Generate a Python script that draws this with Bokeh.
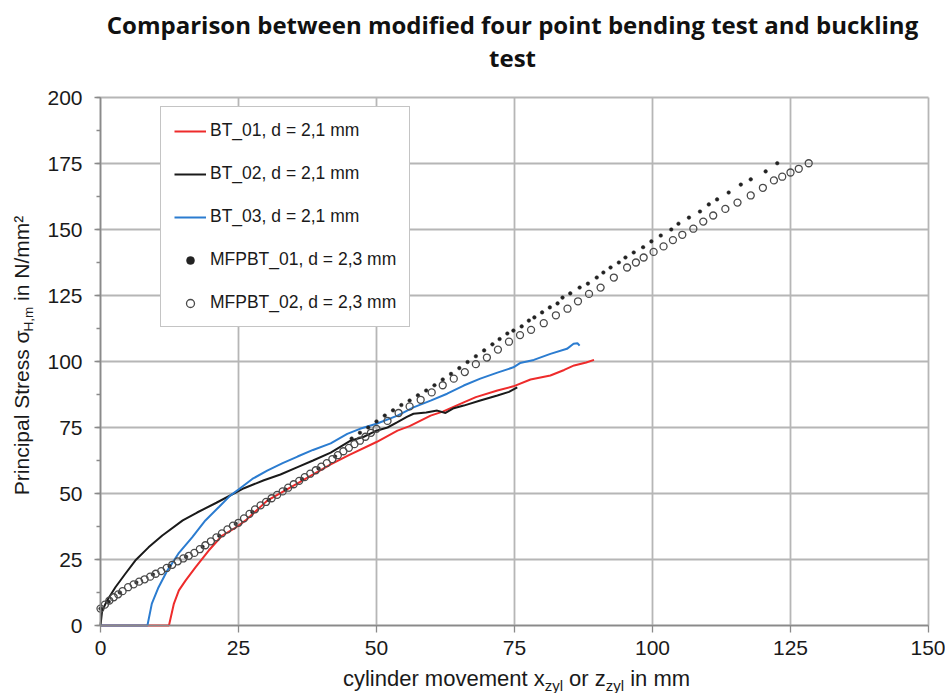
import math
from bokeh.plotting import figure
from bokeh.models import (Range1d, SingleIntervalTicker, Label, Legend, LegendItem,
                          LinearAxis, Grid)
from bokeh.embed import file_html
from bokeh.resources import INLINE

# ---------------- data ----------------
bt01_x = [0, 12.4, 13.3, 14.2, 15.4, 17.2, 19.6, 22, 24.5, 26.3, 30.2, 35.7, 41.7, 45, 50,
          53.8, 56, 59.8, 62, 65.8, 68, 71.9, 74.8, 77.9, 81.5, 84, 85.8, 88, 89.4]
bt01_y = [0, 0, 8.3, 13.3, 17, 22, 28.4, 34, 37.1, 39.8, 47.3, 53.8, 61, 64.5, 69.5,
          73.8, 75.5, 79.5, 81, 84.5, 86.5, 89, 90.6, 93.2, 94.7, 96.8, 98.5, 99.6, 100.6]

bt02_x = [0, 0.3, 1.2, 2.7, 4.5, 6.3, 8.7, 11.2, 14.9, 17.5, 21, 26, 29.6, 32.6, 35.7, 38.5,
          41.7, 45.3, 47.7, 50, 52, 53.8, 55.5, 56.7, 59, 61, 62.5, 64, 65.8, 68.8, 71.9, 74, 75.5]
bt02_y = [0, 5.6, 9.5, 14.5, 19.6, 24.6, 29.6, 34.1, 39.8, 42.8, 46.5, 52, 55, 57.2, 60, 62.5,
          65.5, 70, 71.5, 73.8, 75, 77, 79, 80.2, 80.7, 81.4, 80.5, 82.3, 83.3, 85.2, 87.1, 88.5, 90.2]

bt03_x = [0, 8.5, 9.3, 10.5, 12.1, 14.1, 16.6, 19, 21.5, 23.5, 25, 27.5, 30.2, 33, 35.7, 38.5,
          41.7, 44.7, 47, 50, 53.8, 56.7, 59.8, 62.8, 65.8, 68.8, 71.9, 74.8, 76, 78.5, 81.5,
          84.5, 85.7, 86.4, 86.8]
bt03_y = [0, 0, 8.3, 14.4, 20.8, 27.2, 33.4, 39.8, 45, 49.2, 51.5, 55.5, 58.7, 61.5, 64, 66.5,
          69, 72.6, 74.5, 76.4, 79.5, 82.6, 85.2, 87.8, 90.9, 93.5, 95.8, 97.8, 99.4, 100.6, 102.9,
          104.8, 106.7, 106.9, 106]

mf01_x = [0, 1.5, 3.5, 6.5, 9.5, 12.5, 15.5, 18.5, 21.5, 24.5, 27.5, 30.5, 33.5, 36.5, 39.5,
          42.5, 45.5, 47, 48.5, 50, 51.5, 53, 54.5, 56, 57.5, 59, 60.5, 62, 63.5, 65, 66.5, 68,
          69.5, 71, 72.3, 73.7, 74.8, 76.3, 77.6, 78.6, 80.0, 81.4, 82.8, 83.7, 85.1, 86.8, 88.3,
          89.9, 91.1, 92.4, 93.9, 95.1, 96.6, 98.3, 99.8, 101.5, 103.4, 104.7, 106.6, 108.6,
          110.2, 111.7, 113.8, 116.0, 117.8, 120.5, 122.6]
mf01_y = [6.4, 9, 12.5, 16.3, 19.3, 22.5, 26, 29.8, 34, 38.5, 43, 47.5, 51.5, 55.5, 59.5,
          64, 70.8, 73, 75, 77.3, 79.5, 81.5, 83.5, 85.2, 87.2, 89, 91, 93.2, 95.3, 97.5, 99.8, 102,
          104.2, 106.5, 108.5, 110.6, 111.7, 113.3, 115.5, 116.7, 118.6, 120.5, 122.0, 124.2, 125.8,
          128.0, 129.5, 131.8, 133.7, 135.6, 137.5, 139.4, 141.3, 143.3, 145.5, 147.7, 150.0, 152.2,
          154.5, 156.8, 159.5, 161.4, 164.0, 167.0, 169.0, 172.0, 175.1]

mf02_x = [0, 0.8, 1.6, 2.4, 3.2, 4, 5, 6, 7, 8, 9, 10, 11, 12, 13, 14, 15, 16, 17, 18, 19, 20,
          21, 22, 23, 24, 25, 26, 27, 28, 29, 30, 31, 32, 33, 34, 35, 36, 37, 38, 39, 40, 41, 42,
          43, 44, 45, 46, 47, 48, 49,
          50, 52, 54, 56, 58, 60, 62, 64, 66, 68, 70, 72, 74, 76, 78, 80.3, 82.5, 84.6, 86.5,
          88.5, 90.6, 93, 95.4, 97, 98.4, 100.2, 102, 103.7, 105.4, 107.4, 109.2, 111, 113.2,
          115.4, 117.8, 120, 122, 123.5, 125, 126.5, 128.3]
mf02_y = [6.4, 7.9, 9.4, 10.7, 11.8, 13.0, 14.5, 15.6, 16.6, 17.5, 18.5, 19.6, 20.6, 21.8, 23.0,
          24.3, 25.4, 26.4, 27.5, 28.9, 30.4, 31.9, 33.4, 34.9, 36.4, 37.8, 38.9, 40.6, 42.3, 44.0,
          45.5, 46.8, 48.2, 49.5, 50.8, 52.2, 53.5, 54.8, 56.2, 57.5, 58.8, 60.2, 61.5, 63, 64.5,
          66, 67.3, 68.7, 70, 71.5, 73,
          74.5, 77.5, 80.5, 83, 85.5, 88.3, 91, 93.5, 96, 99, 101.5, 104.5, 107.5, 110,
          112, 114.5, 117.5, 120, 122.8, 125.6, 128, 131.8, 135.6, 137.5, 139.4, 141.5, 143.6, 146,
          148, 150.3, 153, 155.3, 157.8, 160.2, 162.9, 165.8, 168.6, 170, 171.6, 173, 175.1]

legend_labels = ["BT_01, d = 2,1 mm", "BT_02, d = 2,1 mm", "BT_03, d = 2,1 mm",
                 "MFPBT_01, d = 2,3 mm", "MFPBT_02, d = 2,3 mm"]
title_lines = ["Comparison between modified four point bending test and buckling", "test"]
x_bounds = (0, 150)
y_bounds = (0, 200)
tick_step = 25

# ---------------- layout ----------------
W, H = 945, 693
FL, FR, FT, FB = 100, 928, 97, 625   # pixel box of the data area

def dx(px):
    return (px - FL) * (x_bounds[1] - x_bounds[0]) / (FR - FL) + x_bounds[0]

def dy(py):
    return (FB - py) * (y_bounds[1] - y_bounds[0]) / (FB - FT) + y_bounds[0]

# the frame covers the whole canvas; axes are pinned at 0 with fixed_location
p = figure(width=W, height=H, x_range=Range1d(dx(0), dx(W)), y_range=Range1d(dy(H), dy(0)),
           output_backend="svg", toolbar_location=None,
           x_axis_type=None, y_axis_type=None,
           min_border=0, min_border_left=0, min_border_right=0,
           min_border_top=0, min_border_bottom=0)
p.outline_line_color = None
p.background_fill_color = "white"
p.border_fill_color = "white"

xt = SingleIntervalTicker(interval=tick_step, num_minor_ticks=0)
yt = SingleIntervalTicker(interval=tick_step, num_minor_ticks=2)

xg = Grid(dimension=0, ticker=xt, bounds=x_bounds)
yg = Grid(dimension=1, ticker=yt, bounds=y_bounds)
have_cross = "cross_bounds" in Grid.properties()
for g, cb in ((xg, y_bounds), (yg, x_bounds)):
    g.grid_line_color = "#b6b6b6"
    g.grid_line_width = 1.8
    if have_cross:
        g.cross_bounds = cb
if have_cross:
    p.add_layout(xg)
    p.add_layout(yg)
else:
    gx = list(range(x_bounds[0], x_bounds[1] + 1, tick_step))
    gy = list(range(y_bounds[0], y_bounds[1] + 1, tick_step))
    p.segment(x0=gx, y0=[y_bounds[0]] * len(gx), x1=gx, y1=[y_bounds[1]] * len(gx),
              line_color="#b6b6b6", line_width=1.8)
    p.segment(x0=[x_bounds[0]] * len(gy), y0=gy, x1=[x_bounds[1]] * len(gy), y1=gy,
              line_color="#b6b6b6", line_width=1.8)

xa = LinearAxis(ticker=xt, fixed_location=0, bounds=x_bounds)
ya = LinearAxis(ticker=yt, fixed_location=0, bounds=y_bounds)
for ax in (xa, ya):
    ax.axis_line_color = "#8a8a8a"
    ax.axis_line_width = 1.6
    ax.major_tick_line_color = "#8a8a8a"
    ax.minor_tick_line_color = "#8a8a8a"
    ax.major_tick_line_width = 1.3
    ax.minor_tick_line_width = 1.3
    ax.major_tick_in = 0
    ax.minor_tick_in = 0
    ax.major_label_text_font = "Liberation Sans"
    ax.major_label_text_font_size = "21px"
    ax.major_label_text_color = "#1a1a1a"
xa.major_tick_out = 7
ya.major_tick_out = 6
ya.minor_tick_out = 4
xa.major_label_standoff = 8
ya.major_label_standoff = 12
p.add_layout(xa, "below")
p.add_layout(ya, "left")

# ---------------- data marks ----------------
r1 = p.line(bt01_x, bt01_y, line_color="#ee2b2b", line_width=2)
r2 = p.line(bt02_x, bt02_y, line_color="#1a1a1a", line_width=2)
r3 = p.line(bt03_x, bt03_y, line_color="#2b7cd0", line_width=2)
r4 = p.scatter(mf01_x, mf01_y, marker="circle", size=3.6, fill_color="#222222",
               line_color="#222222", line_width=0.5)
r5 = p.scatter(mf02_x, mf02_y, marker="circle", size=7, fill_color=None,
               line_color="#4a4a4a", line_width=1.3)

legend = Legend(items=[LegendItem(label=l, renderers=[r]) for l, r in
                       zip(legend_labels, [r1, r2, r3, r4, r5])])
legend.location = (160, H - 327)
legend.padding = 13
legend.margin = 0
legend.spacing = 22
legend.glyph_width = 32
legend.glyph_height = 20
legend.label_height = 20
legend.label_standoff = 4
legend.label_text_font = "Liberation Sans"
legend.label_text_font_size = "17.5px"
legend.label_text_color = "#1a1a1a"
legend.border_line_color = "#8a8a8a"
legend.border_line_width = 1.5
legend.background_fill_color = "white"
legend.background_fill_alpha = 1.0
p.add_layout(legend)

# ---------------- title ----------------
tcx = dx(512)
for txt, py in zip(title_lines, [24, 57]):
    p.add_layout(Label(x=tcx, y=dy(py), text=txt, text_align="center",
                       text_baseline="middle", text_font="Open Sans",
                       text_font_style="bold", text_font_size="24px",
                       text_color="#111111"))

# ---------------- axis labels with subscripts ----------------
ARIAL = {' ': 278, 'a': 556, 'c': 500, 'd': 556, 'e': 556, 'i': 222, 'l': 222, 'm': 833,
         'n': 556, 'o': 556, 'p': 556, 'r': 333, 's': 500, 't': 278, 'v': 500, 'x': 500,
         'y': 500, 'z': 500, 'P': 667, 'S': 667, 'H': 722, 'N': 722, '/': 278, ',': 278,
         '²': 333, 'σ': 571}
K = 0.33  # observed downward shift of the rendered baseline, in font sizes

def tw(s, size):
    return sum(ARIAL.get(c, 556) for c in s) * size / 1000.0

def split_lead(s):
    t = s.lstrip(' ')
    return s[:len(s) - len(t)], t

# x-axis label: (text, font px, wanted baseline px)
xl_parts = [("cylinder movement x", 22, 685), ("zyl", 15, 690), (" or z", 22, 685),
            ("zyl", 15, 690), (" in mm", 22, 685)]
total = sum(tw(s, f) for s, f, _ in xl_parts)
cur = 516 - total / 2
for s, f, bl in xl_parts:
    lead, t = split_lead(s)
    cur += tw(lead, f)
    p.add_layout(Label(x=dx(cur), y=dy(bl - K * f), text=t, text_align="left",
                       text_baseline="alphabetic", text_font="Liberation Sans",
                       text_font_size=f"{f}px", text_color="#1a1a1a"))
    cur += tw(t, f)

# y-axis label (rotated, reading bottom to top): (text, font px, wanted baseline x px)
yl_parts = [("Principal Stress σ", 21, 28), ("H,m", 13.5, 32), (" in N/mm²", 21, 28)]
total = sum(tw(s, f) for s, f, _ in yl_parts)
cur = 355 + total / 2
for s, f, bl in yl_parts:
    lead, t = split_lead(s)
    cur -= tw(lead, f)
    p.add_layout(Label(x=dx(bl - K * f), y=dy(cur), text=t, text_align="left",
                       text_baseline="alphabetic", angle=math.pi / 2,
                       text_font="Liberation Sans", text_font_size=f"{f}px",
                       text_color="#1a1a1a"))
    cur -= tw(t, f)

open("out.html", "w").write(file_html(p, INLINE))
